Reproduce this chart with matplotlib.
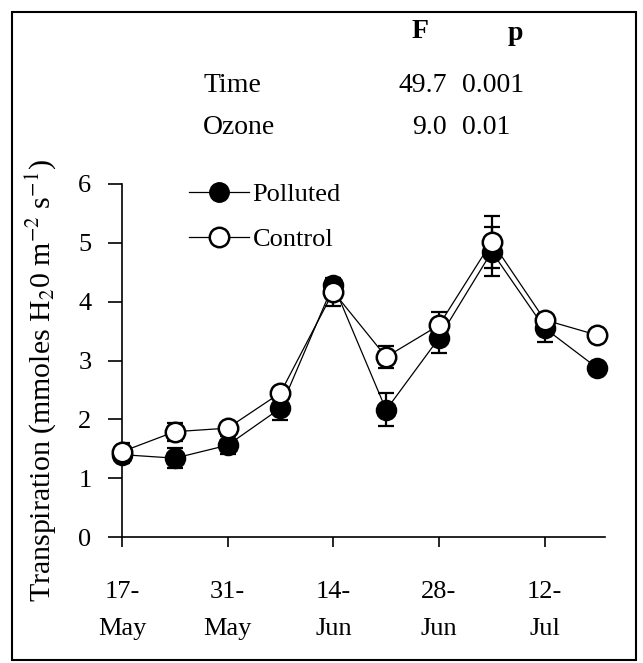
import matplotlib
matplotlib.use("Agg")
import matplotlib.pyplot as plt
from matplotlib.lines import Line2D
from matplotlib.patches import Rectangle

plt.rcParams['font.family'] = ['Liberation Serif', 'DejaVu Serif']
plt.rcParams['mathtext.fontset'] = 'stix'

# Datos (dias desde el 17 de mayo, muestreo semanal)
sample_days = [0, 7, 14, 21, 28, 35, 42, 49, 56, 63]
polluted = [1.40, 1.34, 1.56, 2.19, 4.29, 2.16, 3.38, 4.85, 3.55, 2.87]
polluted_se = [0.15, 0.17, 0.15, 0.20, 0.10, 0.28, 0.26, 0.42, 0.24, 0.0]
control = [1.45, 1.79, 1.85, 2.45, 4.17, 3.06, 3.60, 5.02, 3.69, 3.43]
control_se = [0.14, 0.15, 0.08, 0.08, 0.24, 0.18, 0.23, 0.44, 0.08, 0.0]

tick_days = [0, 14, 28, 42, 56]
tick_labels = ["17-\nMay", "31-\nMay", "14-\nJun", "28-\nJun", "12-\nJul"]

# tabla ANOVA
effects = ["Time", "Ozone"]
f_values = ["49.7", "9.0"]
p_values = ["0.001", "0.01"]

W, H = 643, 663
fig = plt.figure(figsize=(W / 100, H / 100), dpi=100)
ax = fig.add_axes([122 / W, 1 - 537 / H, (605 - 122) / W, (537 - 184) / H])

ms = 14
ax.errorbar(sample_days, polluted, yerr=polluted_se, fmt='none', ecolor='black',
            elinewidth=1.6, capsize=5.5, capthick=1.6, zorder=2)
ax.errorbar(sample_days, control, yerr=control_se, fmt='none', ecolor='black',
            elinewidth=1.6, capsize=5.5, capthick=1.6, zorder=2)
ax.plot(sample_days, polluted, color='black', lw=0.9, marker='o', ms=ms,
        mfc='black', mec='black', mew=1.5, zorder=3, clip_on=False)
ax.plot(sample_days, control, color='black', lw=0.9, marker='o', ms=ms,
        mfc='white', mec='black', mew=1.8, zorder=4, clip_on=False)

ax.set_xlim(0, 64)
ax.set_ylim(0, 6)
ax.set_yticks(range(0, 7))
ax.set_xticks(tick_days)
ax.set_xticklabels(tick_labels, fontsize=19, linespacing=1.85)
ax.tick_params(axis='y', labelsize=19, length=10, width=1.2, pad=12)
ax.tick_params(axis='x', length=7, width=1.2, pad=25)
for s in ['top', 'right']:
    ax.spines[s].set_visible(False)
for s in ['left', 'bottom']:
    ax.spines[s].set_linewidth(1.2)

ax.set_ylabel('Transpiration (mmoles H$_2$0 m$^{-2}$ s$^{-1}$)', fontsize=21.5)
ax.yaxis.set_label_coords((58 - 122) / (605 - 122), (537 - 381) / (537 - 184))

handles = [
    Line2D([], [], color='black', lw=0.9, marker='o', ms=ms, mfc='black', mec='black'),
    Line2D([], [], color='black', lw=0.9, marker='o', ms=ms, mfc='white', mec='black', mew=1.8),
]
fig.legend(handles, ['Polluted', 'Control'], loc='center left',
           bbox_to_anchor=(176 / W, 1 - 217 / H), frameon=False, fontsize=19,
           handlelength=2.25, handletextpad=0.15, labelspacing=0.8, borderpad=0)

# texto de la tabla
fig.text(420 / W, 1 - 31 / H, "F", fontsize=20, fontweight='bold', ha='center', va='center')
fig.text(515 / W, 1 - 33 / H, "p", fontsize=20, fontweight='bold', ha='center', va='center')
rows_y = [85, 127]
for name, fv, pv, yy in zip(effects, f_values, p_values, rows_y):
    fig.text(203 / W, 1 - yy / H, name, fontsize=20, ha='left', va='center')
    fig.text(447 / W, 1 - yy / H, fv, fontsize=20, ha='right', va='center')
    fig.text(462 / W, 1 - yy / H, pv, fontsize=20, ha='left', va='center')

# marco exterior
fig.patches.append(Rectangle((12 / W, 1 - 660 / H), (636 - 12) / W, (660 - 12) / H,
                             transform=fig.transFigure, fill=False, lw=1.5, ec='black'))

fig.savefig('out.png', dpi=100)
